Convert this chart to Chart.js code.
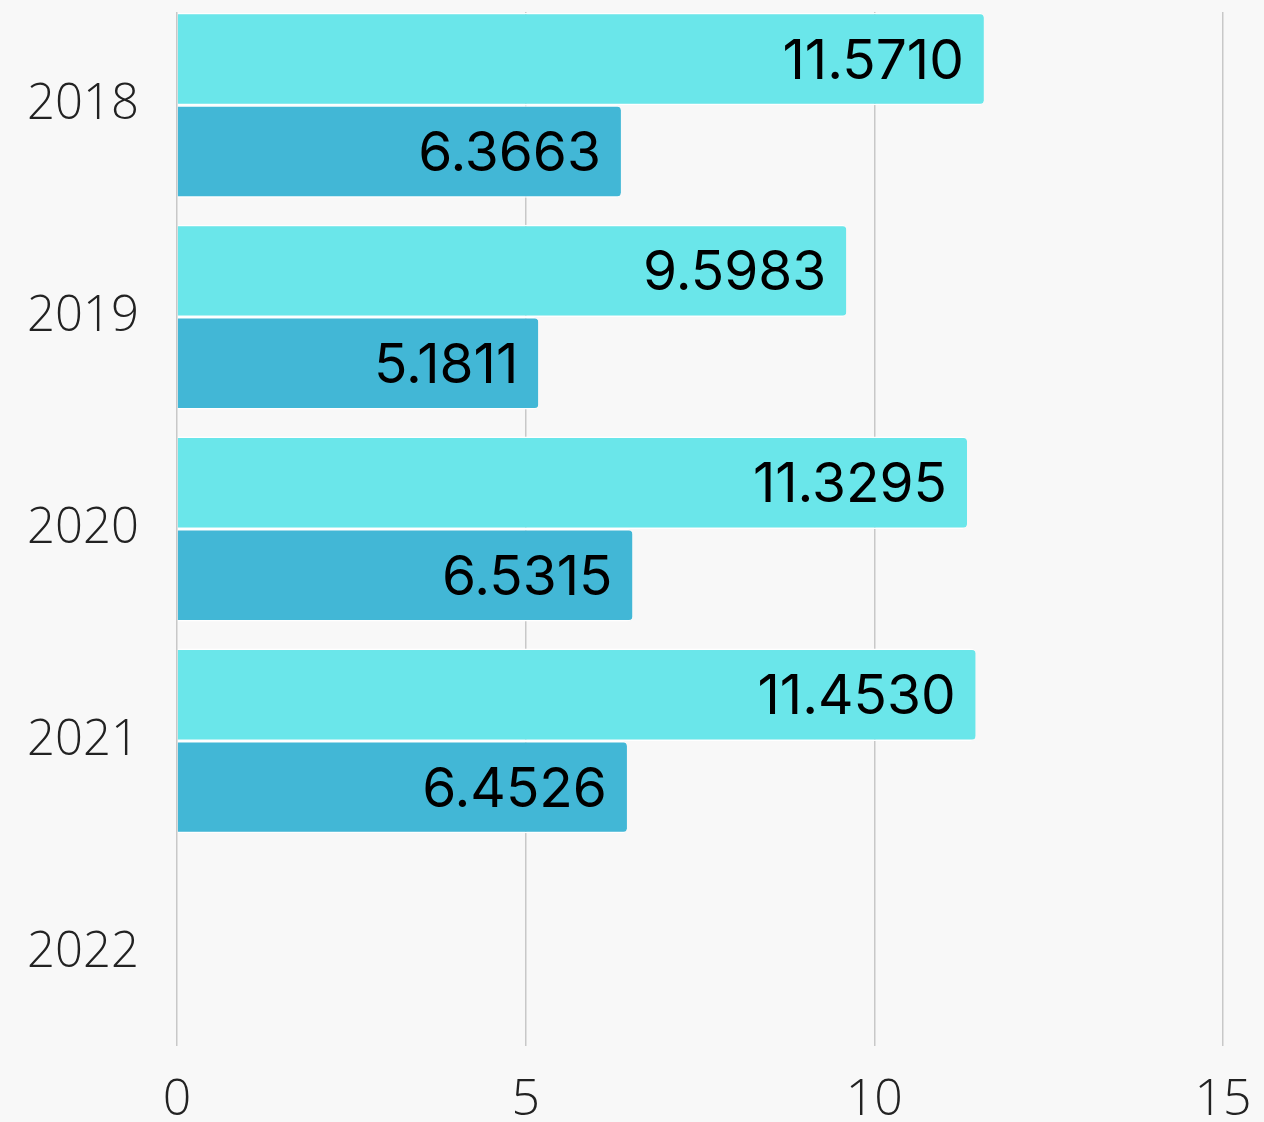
<!DOCTYPE html>
<html>
<head>
<meta charset="utf-8">
<script src="https://cdn.jsdelivr.net/npm/chart.js@4/dist/chart.umd.min.js"></script>
<style>
  html, body { margin: 0; padding: 0; background: #f8f8f8; }
  #wrap { width: 1264px; height: 1122px; }
</style>
</head>
<body>
<div id="wrap"><canvas id="barChart" width="1264" height="1122"></canvas></div>
<script>
// chart data
var years = ['2018', '2019', '2020', '2021', '2022'];
var firstValues = [11.5710, 9.5983, 11.3295, 11.4530, null];
var secondValues = [6.3663, 5.1811, 6.5315, 6.4526, null];
var xTicks = [0, 5, 10, 15];

// bars sit on a linear index axis so the rows line up with the picture
function toPoints(values) {
    var pts = [];
    for (var i = 0; i < values.length; i++) {
        if (values[i] !== null) pts.push({x: values[i], y: i});
    }
    return pts;
}

// value text at the end of each bar
var barLabels = {
    id: 'barLabels',
    afterDatasetsDraw: function(chart) {
        var ctx = chart.ctx;
        ctx.save();
        ctx.font = '400 55px Inter, Roboto, sans-serif';
        ctx.fillStyle = '#000';
        ctx.textAlign = 'right';
        ctx.textBaseline = 'middle';
        chart.data.datasets.forEach(function(ds, i) {
            chart.getDatasetMeta(i).data.forEach(function(bar, j) {
                ctx.fillText(ds.data[j].x.toFixed(4), bar.x - 20, bar.y + 3);
            });
        });
        ctx.restore();
    }
};

var ctx = document.getElementById('barChart').getContext('2d');
var chart = new Chart(ctx, {
    type: 'bar',
    data: {
        datasets: [{
            label: 'first',
            data: toPoints(firstValues),
            backgroundColor: '#6ae6ea',
            borderColor: '#ffffff',
            borderWidth: {top: 1.5, bottom: 1.5, left: 0, right: 0},
            borderRadius: 5,
            borderSkipped: 'start',
            categoryPercentage: 0.873,
            barPercentage: 1
        }, {
            label: 'second',
            data: toPoints(secondValues),
            backgroundColor: '#42b7d6',
            borderColor: '#ffffff',
            borderWidth: {top: 1.5, bottom: 1.5, left: 0, right: 0},
            borderRadius: 5,
            borderSkipped: 'start',
            categoryPercentage: 0.873,
            barPercentage: 1
        }]
    },
    options: {
        indexAxis: 'y',
        responsive: false,
        animation: false,
        layout: {padding: {top: 12, right: 41, bottom: 0, left: 0}},
        plugins: {legend: {display: false}, tooltip: {enabled: false}},
        scales: {
            x: {
                type: 'linear',
                min: xTicks[0],
                max: xTicks[xTicks.length - 1],
                afterBuildTicks: function(scale) {
                    scale.ticks = xTicks.map(function(v) { return {value: v}; });
                },
                afterFit: function(scale) {
                    scale.height = 76;
                    scale.paddingLeft = 0;
                    scale.paddingRight = 0;
                },
                grid: {color: '#c8c8c8', lineWidth: 1.5, drawTicks: false},
                border: {display: false},
                ticks: {
                    padding: 25,
                    color: '#222',
                    font: {family: "'Open Sans', sans-serif", size: 50, weight: 300}
                }
            },
            y: {
                type: 'linear',
                reverse: true,
                offset: false,
                bounds: 'data',
                min: -0.44,
                max: years.length - 1 + 0.44,
                afterBuildTicks: function(scale) {
                    scale.ticks = years.map(function(y, i) { return {value: i}; });
                },
                afterFit: function(scale) {
                    scale.width = 177;
                    scale.paddingTop = 0;
                    scale.paddingBottom = 0;
                },
                ticks: {
                    padding: 38,
                    color: '#222',
                    font: {family: "'Open Sans', sans-serif", size: 49, weight: 300},
                    callback: function(v) { return years[v] !== undefined ? years[v] : ''; }
                },
                grid: {display: false, drawTicks: false, offset: false},
                border: {display: false}
            }
        }
    },
    plugins: [barLabels]
});
</script>
</body>
</html>
